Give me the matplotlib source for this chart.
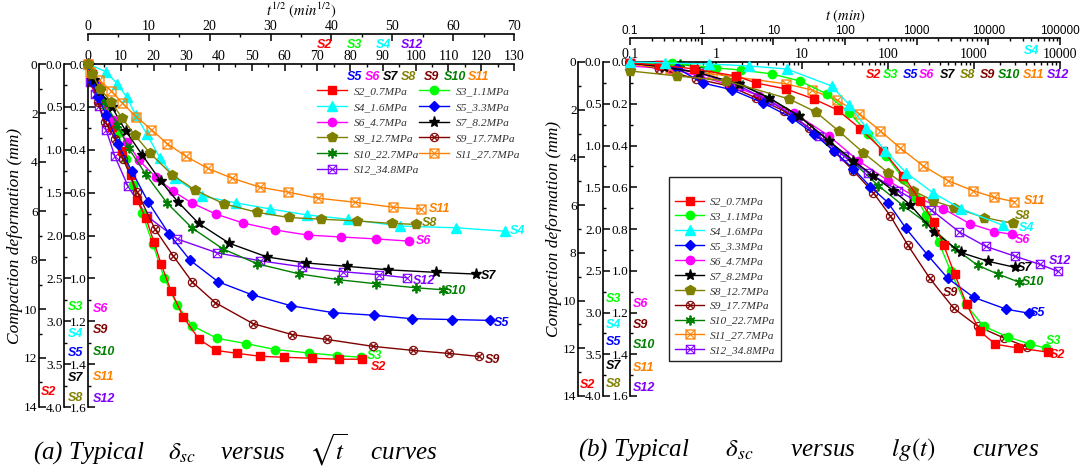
#!/bin/python
import matplotlib
matplotlib.use('Agg')
import matplotlib.pyplot as plt
from matplotlib.ticker import (MultipleLocator, FormatStrFormatter,
                               FixedLocator, LogLocator, NullFormatter,
                               FuncFormatter)

plt.rcParams['font.family'] = 'Liberation Serif'
plt.rcParams['mathtext.fontset'] = 'stix'
plt.rcParams['axes.linewidth'] = 1.2

# ---------------------------------------------------------------------------
# (a) deformation versus square root of time (min^1/2), deformation in mm
# ---------------------------------------------------------------------------
a_s2_x = [0, 1.2, 2.4, 4.6, 7.3, 10.4, 13.1, 15.0, 17.7, 20.1, 22.3, 25.3,
          29.0, 33.9, 39.1, 45.5, 52.5, 59.8, 68.4, 76.6, 83.6]
a_s2_y = [0, 0.41, 0.81, 1.54, 2.56, 3.57, 4.55, 5.56, 6.29, 7.26, 8.16, 9.25,
          10.31, 11.24, 11.69, 11.81, 11.93, 11.97, 12.01, 12.05, 12.05]
a_s3_x = [0, 1.2, 3.1, 5.5, 9.2, 11.6, 13.7, 16.5, 19.8, 23.2, 27.2, 31.7,
          39.4, 48.2, 57.1, 67.4, 76.0, 83.3]
a_s3_y = [0, 0.09, 0.26, 0.49, 0.81, 1.11, 1.41, 1.74, 2.10, 2.49, 2.81, 3.05,
          3.20, 3.26, 3.33, 3.37, 3.40, 3.42]
a_s4_x = [0, 5.5, 8.9, 11.9, 14.6, 18.0, 22.0, 26.5, 34.8, 45.2, 55.5, 66.8,
          79.3, 95.2, 112.3, 127.3]
a_s4_y = [0, 0.09, 0.23, 0.39, 0.60, 0.82, 1.10, 1.33, 1.54, 1.62, 1.69, 1.76,
          1.81, 1.89, 1.91, 1.95]
a_s5_x = [0, 0.8, 1.6, 3.0, 4.9, 7.2, 9.9, 13.3, 16.8, 21.4, 26.9, 33.4,
          40.3, 47.0, 53.2, 59.8, 66.1]
a_s5_y = [0, 0.21, 0.38, 0.59, 0.93, 1.25, 1.61, 1.98, 2.29, 2.54, 2.69, 2.82,
          2.90, 2.93, 2.97, 2.98, 2.99]
a_s6_x = [0, 1.2, 2.5, 4.1, 6.4, 8.4, 11.2, 14.0, 17.1, 21.0, 25.5, 30.7,
          36.1, 41.6, 47.3, 52.7]
a_s6_y = [0, 0.083, 0.176, 0.260, 0.362, 0.450, 0.529, 0.594, 0.649, 0.700,
          0.742, 0.774, 0.798, 0.807, 0.816, 0.826]
a_s7_x = [0, 1.0, 2.0, 3.9, 6.2, 8.9, 12.0, 14.8, 18.2, 23.2, 29.4, 35.8,
          42.6, 49.3, 57.2, 63.8]
a_s7_y = [0, 0.19, 0.32, 0.50, 0.78, 1.06, 1.37, 1.61, 1.86, 2.09, 2.25, 2.32,
          2.36, 2.40, 2.43, 2.45]
a_s8_x = [0, 0.7, 2.0, 3.8, 5.6, 7.7, 10.2, 13.8, 17.6, 22.3, 27.8, 33.0,
          38.3, 44.2, 50.0, 53.9]
a_s8_y = [0, 0.12, 0.29, 0.44, 0.63, 0.83, 1.04, 1.29, 1.47, 1.63, 1.73, 1.79,
          1.81, 1.83, 1.86, 1.87]
a_s9_x = [0, 0.7, 1.6, 2.8, 4.4, 5.8, 8.1, 11.0, 14.0, 17.1, 20.9, 27.1,
          33.5, 39.3, 46.8, 53.4, 59.3, 64.2]
a_s9_y = [0, 0.083, 0.176, 0.269, 0.348, 0.445, 0.598, 0.770, 0.895, 1.016,
          1.113, 1.211, 1.262, 1.285, 1.317, 1.336, 1.350, 1.364]
a_s10_x = [0, 0.8, 1.8, 2.8, 4.8, 6.7, 9.5, 13.0, 17.1, 22.2, 27.8, 34.7,
           41.1, 47.3, 53.9, 58.3]
a_s10_y = [0, 0.074, 0.130, 0.176, 0.283, 0.394, 0.515, 0.649, 0.765, 0.863,
           0.932, 0.979, 1.006, 1.025, 1.044, 1.053]
a_s11_x = [0, 0.3, 1.8, 3.8, 5.6, 7.9, 10.4, 13.0, 16.1, 19.7, 23.7, 28.3,
           32.9, 37.8, 43.9, 50.1, 54.7]
a_s11_y = [0, 0.037, 0.074, 0.125, 0.181, 0.246, 0.306, 0.371, 0.431, 0.487,
           0.533, 0.575, 0.598, 0.626, 0.645, 0.668, 0.677]
a_s12_x = [0, 0.6, 2.1, 3.4, 5.5, 8.2, 12.2, 18.0, 27.2, 39.4, 52.5, 65.3,
           77.8, 88.8, 97.3]
a_s12_y = [0, 0.083, 0.139, 0.195, 0.306, 0.431, 0.570, 0.710, 0.816, 0.881,
           0.918, 0.946, 0.969, 0.983, 0.997]

# ---------------------------------------------------------------------------
# (b) deformation versus time (min, log axis), deformation in mm
# ---------------------------------------------------------------------------
b_s2_t = [0.1, 0.22, 0.56, 1.72, 2.93, 6.5, 13.7, 25.9, 47.8, 88, 150, 236,
          341, 446, 597, 822, 1161, 1775, 3270, 7260]
b_s2_y = [0.04, 0.13, 0.29, 0.59, 0.88, 1.13, 1.55, 2.01, 2.80, 3.72, 4.76,
          5.81, 6.69, 7.69, 8.90, 10.15, 11.28, 11.83, 11.99, 12.16]
b_s3_t = [0.1, 0.31, 1.01, 1.96, 4.48, 9.44, 19.3, 35.6, 59.2, 95.3, 150, 212,
          276, 390, 537, 800, 1291, 2512, 4508, 6887]
b_s3_y = [0.012, 0.012, 0.072, 0.096, 0.143, 0.227, 0.382, 0.609, 0.860,
          1.122, 1.397, 1.624, 1.827, 2.161, 2.507, 2.901, 3.164, 3.295,
          3.379, 3.427]
b_s4_t = [0.1, 0.31, 1.28, 4.59, 15.4, 64.9, 115, 198, 363, 708, 1675, 4093,
          16140]
b_s4_y = [0, 0.012, 0.024, 0.048, 0.084, 0.287, 0.513, 0.788, 1.063, 1.325,
          1.564, 1.755, 1.958]
b_s5_t = [0.1, 0.35, 0.70, 1.55, 3.52, 7.62, 13.7, 23.3, 39.6, 62.2, 100, 162,
          291, 496, 989, 2377, 4385]
b_s5_y = [0.012, 0.072, 0.251, 0.334, 0.490, 0.669, 0.860, 1.063, 1.278,
          1.493, 1.684, 1.994, 2.316, 2.591, 2.818, 2.961, 3.009]
b_s6_t = [0.1, 0.29, 0.64, 1.43, 3.17, 8.04, 20.4, 45.3, 100, 195, 434, 889,
          1728, 2793]
b_s6_y = [0.019, 0.033, 0.067, 0.110, 0.162, 0.244, 0.353, 0.473, 0.568,
          0.640, 0.702, 0.774, 0.812, 0.826]
b_s7_t = [0.1, 0.25, 0.64, 1.86, 4.14, 9.19, 20.4, 39.6, 67.5, 115, 180, 341,
          700, 1474, 3020]
b_s7_y = [0.012, 0.060, 0.131, 0.263, 0.430, 0.645, 0.943, 1.182, 1.361,
          1.540, 1.708, 2.030, 2.281, 2.388, 2.460]
b_s8_t = [0.1, 0.35, 1.32, 7.05, 14.4, 26.6, 51.8, 100, 195, 333, 581, 1324,
          2866]
b_s8_y = [0.107, 0.167, 0.227, 0.442, 0.597, 0.824, 1.087, 1.325, 1.540,
          1.660, 1.743, 1.863, 1.934]
b_s9_t = [0.1, 0.22, 0.59, 1.43, 2.93, 6.17, 12.0, 23.3, 39.6, 67.5, 106, 171,
          307, 581, 1102, 2254, 4159]
b_s9_y = [0.005, 0.033, 0.081, 0.115, 0.172, 0.234, 0.315, 0.425, 0.521,
          0.626, 0.736, 0.879, 1.037, 1.180, 1.266, 1.323, 1.366]
b_s10_t = [0.1, 0.38, 0.84, 1.86, 4.14, 9.19, 20.4, 39.6, 77.1, 150, 276, 597,
           1102, 1923, 3365]
b_s10_y = [0.005, 0.010, 0.033, 0.100, 0.172, 0.258, 0.377, 0.482, 0.592,
           0.688, 0.769, 0.893, 0.974, 1.017, 1.055]
b_s11_t = [0.1, 0.29, 0.89, 1.72, 6.50, 13.0, 25.2, 46.5, 81.3, 138, 255, 496,
           964, 1728, 2944]
b_s11_y = [0.010, 0.033, 0.057, 0.072, 0.105, 0.134, 0.181, 0.248, 0.330,
           0.411, 0.497, 0.568, 0.616, 0.649, 0.669]
b_s12_t = [0.1, 0.22, 0.64, 1.86, 4.14, 8.04, 15.6, 30.4, 59.0, 131, 316, 664,
           1361, 3020, 5875, 9484]
b_s12_y = [0.005, 0.014, 0.052, 0.115, 0.186, 0.258, 0.353, 0.449, 0.530,
           0.616, 0.707, 0.812, 0.883, 0.931, 0.970, 1.003]

names = ['S2', 'S3', 'S4', 'S5', 'S6', 'S7', 'S8', 'S9', 'S10', 'S11', 'S12']
legend_labels = ['S2_0.7MPa', 'S3_1.1MPa', 'S4_1.6MPa', 'S5_3.3MPa',
                 'S6_4.7MPa', 'S7_8.2MPa', 'S8_12.7MPa', 'S9_17.7MPa',
                 'S10_22.7MPa', 'S11_27.7MPa', 'S12_34.8MPa']

# styling
colours = ['#ff0000', '#00ff00', '#00ffff', '#0000ff', '#ff00ff', '#000000',
           '#808000', '#800000', '#008000', '#ff8000', '#8000ff']
markers = ['s', 'o', '^', 'D', 'o', '*', 'p', r'$\otimes$', (6, 2, 0),
           r'$\boxtimes$', r'$\boxtimes$']
msizes = [5.5, 6, 6.5, 5.5, 6, 8, 7, 6.5, 7, 7, 6.5]
medges = [1, 1, 1, 1, 1, 1, 1, 0.3, 1.3, 0.3, 0.3]

W, H = 1080.0, 468.0
PT = 0.72  # points per pixel at 100 dpi

slabel_font = dict(family='Liberation Sans', weight='bold', style='italic',
                   size=9)

fig = plt.figure(figsize=(W / 100, H / 100), dpi=100)


def px_rect(x0, y0, x1, y1):
    """axes rectangle from pixel corners (origin top-left)"""
    return [x0 / W, 1 - y1 / H, (x1 - x0) / W, (y1 - y0) / H]


def layer(rect, xlim, ylim, xlog=False):
    """a transparent axes sharing the panel frame"""
    ax = fig.add_axes(rect)
    if xlog:
        ax.set_xscale('log')
    ax.set_xlim(xlim)
    ax.set_ylim(ylim)
    ax.patch.set_visible(False)
    for sp in ax.spines.values():
        sp.set_visible(False)
    ax.xaxis.set_visible(False)
    ax.yaxis.set_visible(False)
    return ax


def show_x(ax, offset_px, family='Liberation Serif', size=10):
    ax.xaxis.set_visible(True)
    sp = ax.spines['top']
    sp.set_visible(True)
    sp.set_position(('outward', offset_px * PT))
    ax.xaxis.set_ticks_position('top')
    ax.xaxis.set_label_position('top')
    ax.tick_params(axis='x', which='both', direction='in', top=True,
                   bottom=False, labeltop=True, labelbottom=False)
    ax.tick_params(axis='x', which='major', length=5, width=1.1,
                   labelsize=size, pad=1, labelfontfamily=family)
    ax.tick_params(axis='x', which='minor', length=2.5, width=1)


def show_y(ax, offset_px, major, minor, fmt):
    ax.yaxis.set_visible(True)
    sp = ax.spines['left']
    sp.set_visible(True)
    sp.set_position(('outward', offset_px * PT))
    ax.yaxis.set_ticks_position('left')
    ax.yaxis.set_major_locator(MultipleLocator(major))
    ax.yaxis.set_minor_locator(MultipleLocator(minor))
    ax.yaxis.set_major_formatter(FormatStrFormatter(fmt))
    ax.tick_params(axis='y', which='both', direction='in', left=True,
                   right=False)
    ax.tick_params(axis='y', which='major', length=5, width=1.1,
                   labelsize=9.5, pad=1)
    ax.tick_params(axis='y', which='minor', length=2.5, width=1)


def log_ticks(ax, ticks):
    ax.xaxis.set_major_locator(FixedLocator(ticks))
    ax.xaxis.set_major_formatter(FuncFormatter(lambda v, p: '%g' % v))
    ax.xaxis.set_minor_locator(LogLocator(base=10, subs=range(2, 10)))
    ax.xaxis.set_minor_formatter(NullFormatter())


def draw(ax, x, y, i, dx, dy, anchor=-1):
    line, = ax.plot(x, y, color=colours[i], marker=markers[i], ms=msizes[i],
                    lw=1, mew=medges[i], clip_on=False,
                    label=legend_labels[i])
    ax.annotate(names[i], xy=(x[anchor], y[anchor]),
                xytext=(dx * PT, -dy * PT), textcoords='offset points',
                color=colours[i], ha='left', va='center', **slabel_font)
    return line


def side_label(i, x, y):
    fig.text(x / W, 1 - y / H, names[i], color=colours[i], ha='left',
             va='center', **slabel_font)


# ----------------------------- panel (a) -----------------------------------
rect_a = px_rect(88, 64, 514, 407)
a_lo_in = layer(rect_a, (0, 130), (1.6, 0))
a_lo_mid = layer(rect_a, (0, 130), (4.0, 0))
a_lo_out = layer(rect_a, (0, 130), (14, 0))
a_up_in = layer(rect_a, (0, 70), (1.6, 0))
a_up_mid = layer(rect_a, (0, 70), (4.0, 0))

show_x(a_lo_in, 0)
a_lo_in.xaxis.set_major_locator(MultipleLocator(10))
a_lo_in.xaxis.set_minor_locator(MultipleLocator(5))
show_x(a_up_in, 30)
a_up_in.xaxis.set_major_locator(MultipleLocator(10))
a_up_in.xaxis.set_minor_locator(MultipleLocator(5))
a_up_in.set_xlabel(r'$\mathit{t^{1/2}\ (min^{1/2})}$', fontsize=10.5,
                   labelpad=3)

show_y(a_lo_in, 0, 0.2, 0.1, '%.1f')
show_y(a_lo_mid, 24, 0.5, 0.25, '%.1f')
show_y(a_lo_out, 49, 2, 1, '%d')
a_lo_out.set_ylabel('Compaction deformation (mm)', style='italic',
                    fontsize=12.5, labelpad=1)

lines_a = [None] * 11
lines_a[0] = draw(a_lo_out, a_s2_x, a_s2_y, 0, 9, 8)
lines_a[1] = draw(a_lo_mid, a_s3_x, a_s3_y, 1, 6, -1)
lines_a[2] = draw(a_lo_mid, a_s4_x, a_s4_y, 2, 5, 0)
lines_a[3] = draw(a_up_mid, a_s5_x, a_s5_y, 3, 4, 3)
lines_a[4] = draw(a_up_in, a_s6_x, a_s6_y, 4, 7, 0)
lines_a[5] = draw(a_up_mid, a_s7_x, a_s7_y, 5, 5, 2)
lines_a[6] = draw(a_up_mid, a_s8_x, a_s8_y, 6, 6, -1)
lines_a[7] = draw(a_up_in, a_s9_x, a_s9_y, 7, 6, 4)
lines_a[8] = draw(a_up_in, a_s10_x, a_s10_y, 8, 1, 1)
lines_a[9] = draw(a_up_in, a_s11_x, a_s11_y, 9, 8, 0)
lines_a[10] = draw(a_lo_in, a_s12_x, a_s12_y, 10, 6, 3)

# legend, filled row by row
order = [0, 2, 4, 6, 8, 10, 1, 3, 5, 7, 9]
fig.legend([lines_a[k] for k in order], [legend_labels[k] for k in order],
           loc='upper left', bbox_to_anchor=(315 / W, 1 - 84 / H),
           ncol=2, frameon=False, handlelength=2.6, handletextpad=0.6,
           labelspacing=0.5, columnspacing=0.0, borderaxespad=0,
           borderpad=0.2,
           prop=dict(family='Liberation Serif', style='italic', size=8.2),
           labelcolor='#333333')

# axis membership labels
for i, x in zip([0, 1, 2, 10], [317, 347, 376, 401]):
    side_label(i, x, 45)
for i, x in zip([3, 4, 5, 6, 7, 8, 9], [347, 365, 383, 401, 424, 444, 468]):
    side_label(i, x, 77)
side_label(0, 41, 392)
for i, y in zip([1, 2, 3, 5, 6], [307, 334, 353, 378, 398]):
    side_label(i, 68, y)
for i, y in zip([4, 7, 8, 9, 10], [309, 330, 352, 377, 399]):
    side_label(i, 93, y)

# ----------------------------- panel (b) -----------------------------------
rect_b = px_rect(630, 62, 1060, 396)
b_lo_in = layer(rect_b, (0.1, 10000), (1.6, 0), xlog=True)
b_lo_mid = layer(rect_b, (0.1, 10000), (4.0, 0), xlog=True)
b_lo_out = layer(rect_b, (0.1, 10000), (14, 0), xlog=True)
b_up_mid = layer(rect_b, (0.1, 100000), (4.0, 0), xlog=True)

show_x(b_lo_in, 0)
log_ticks(b_lo_in, [0.1, 1, 10, 100, 1000, 10000])
show_x(b_up_mid, 24, family='Liberation Sans', size=8.5)
log_ticks(b_up_mid, [0.1, 1, 10, 100, 1000, 10000, 100000])
b_up_mid.set_xlabel(r'$\mathit{t\ (min)}$', fontsize=10.5, labelpad=3)

show_y(b_lo_in, 0, 0.2, 0.1, '%.1f')
show_y(b_lo_mid, 27, 0.5, 0.25, '%.1f')
show_y(b_lo_out, 52, 2, 1, '%d')
b_lo_out.set_ylabel('Compaction deformation (mm)', style='italic',
                    fontsize=12.5, labelpad=1)

lines_b = [None] * 11
lines_b[0] = draw(b_lo_out, b_s2_t, b_s2_y, 0, 2, 3)
lines_b[1] = draw(b_lo_mid, b_s3_t, b_s3_y, 1, 0, -7)
lines_b[2] = draw(b_up_mid, b_s4_t, b_s4_y, 2, 16, 3)
lines_b[3] = draw(b_lo_mid, b_s5_t, b_s5_y, 3, 1, 0)
lines_b[4] = draw(b_lo_in, b_s6_t, b_s6_y, 4, 2, 6)
lines_b[5] = draw(b_lo_mid, b_s7_t, b_s7_y, 5, 2, 1)
lines_b[6] = draw(b_lo_mid, b_s8_t, b_s8_y, 6, 2, -7)
lines_b[7] = draw(b_lo_in, b_s9_t, b_s9_y, 7, 13, 15, anchor=12)
lines_b[8] = draw(b_lo_in, b_s10_t, b_s10_y, 8, 3, 0)
lines_b[9] = draw(b_lo_in, b_s11_t, b_s11_y, 9, 10, -1)
lines_b[10] = draw(b_lo_in, b_s12_t, b_s12_y, 10, -9, -10)

leg = fig.legend(lines_b, legend_labels, loc='upper left',
                 bbox_to_anchor=(669 / W, 1 - 177 / H), ncol=1,
                 frameon=True, fancybox=False, edgecolor='#222222',
                 framealpha=1, handlelength=2.6, handletextpad=0.5,
                 labelspacing=0.43, borderaxespad=0, borderpad=0.5,
                 title=' ', title_fontsize=7,
                 prop=dict(family='Liberation Serif', style='italic',
                           size=8.2),
                 labelcolor='#333333')
leg.get_frame().set_linewidth(1.0)

side_label(2, 1024, 51)
for i, x in zip([0, 1, 3, 4, 5, 6, 7, 8, 9, 10],
                [866, 883, 903, 919, 940, 960, 980, 998, 1023, 1047]):
    side_label(i, x, 75)
side_label(0, 580, 385)
for i, y in zip([1, 2, 3, 5, 6], [299, 325, 342, 366, 384]):
    side_label(i, 606, y)
for i, y in zip([4, 7, 8, 9, 10], [304, 325, 345, 368, 388]):
    side_label(i, 633, y)

# ----------------------------- captions ------------------------------------
fig.text(33 / W, 1 - 450 / H,
         r'(a) Typical    $\delta_{sc}$    versus    $\sqrt{t}$    curves',
         style='italic', fontsize=18, va='center', ha='left')
fig.text(578 / W, 1 - 450 / H,
         r'(b) Typical      $\delta_{sc}$      versus      $lg(t)$'
         r'      curves',
         style='italic', fontsize=18, va='center', ha='left')

fig.savefig('out.png', dpi=100)
